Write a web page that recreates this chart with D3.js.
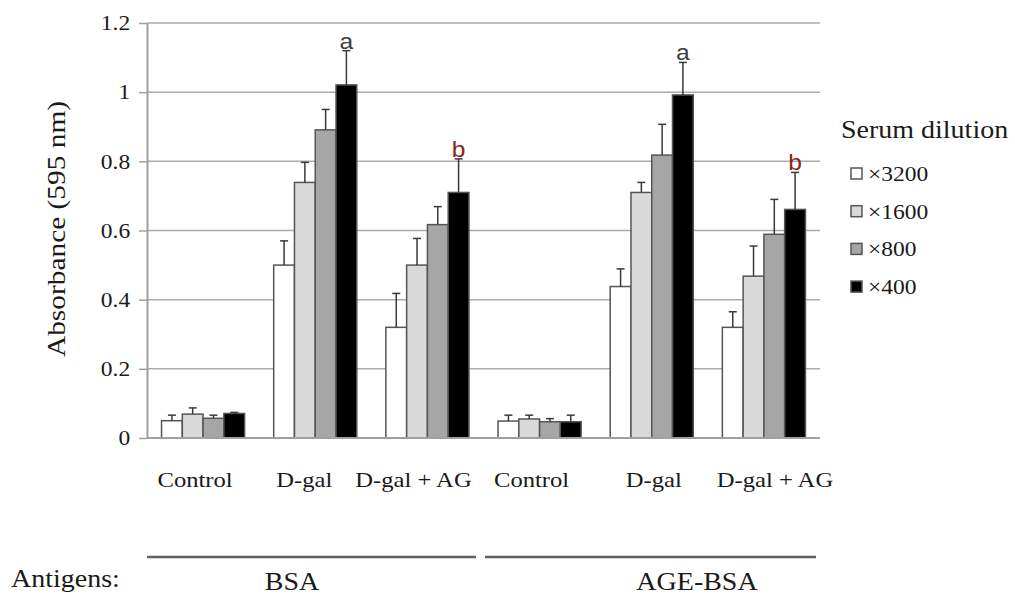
<!DOCTYPE html>
<html>
<head>
<meta charset="utf-8">
<script src="https://cdn.jsdelivr.net/npm/d3@7"></script>
<style>
  body { margin: 0; background: #fff; }
  svg { display: block; font-family: "Liberation Serif", "Times New Roman", serif; }
</style>
</head>
<body>
<div id="chart"></div>
<script>
// Data
const antigens = ["BSA", "AGE-BSA"];
const treatments = ["Control", "D-gal", "D-gal + AG"];
const dilutions = ["×3200", "×1600", "×800", "×400"];

// means per dilution, order: BSA (Control, D-gal, D-gal+AG), AGE-BSA (Control, D-gal, D-gal+AG)
const x3200 = [0.05, 0.50, 0.32, 0.049, 0.438, 0.32];
const x1600 = [0.069, 0.739, 0.50, 0.055, 0.71, 0.468];
const x800  = [0.057, 0.891, 0.617, 0.047, 0.818, 0.589];
const x400  = [0.071, 1.021, 0.71, 0.047, 0.992, 0.661];

// upper error bars
const e3200 = [0.016, 0.07, 0.098, 0.017, 0.051, 0.045];
const e1600 = [0.018, 0.058, 0.077, 0.011, 0.029, 0.087];
const e800  = [0.009, 0.059, 0.052, 0.009, 0.089, 0.101];
const e400  = [0.003, 0.099, 0.097, 0.019, 0.094, 0.107];

// significance letters over the x400 bars
const letters = ["", "a", "b", "", "a", "b"];
const yTicks = [0, 0.2, 0.4, 0.6, 0.8, 1, 1.2];

const colors = ["#ffffff", "#d9d9d9", "#a6a6a6", "#000000"];
const letterColors = {a: "#404040", b: "#8b2323"};

// layout
const width = 1015, height = 596;
const plotLeft = 147, plotRight = 820, plotTop = 23, plotBottom = 438;
const sx = 1.12; // the source text is a bit wide
const labelNudge = [-8, -11, -14, -8, 2, 11];

const svg = d3.select("#chart").append("svg")
    .attr("width", width)
    .attr("height", height)
    .attr("viewBox", [0, 0, width, height]);

function txt(g, s, x, y, size, anchor = "start") {
    return g.append("text")
        .attr("transform", `translate(${x},${y}) scale(${sx},1)`)
        .attr("text-anchor", anchor)
        .attr("font-size", size)
        .attr("fill", "#1a1a1a")
        .text(s);
}

// rows = one entry per category (antigen x treatment)
const cats = [];
antigens.forEach(a => treatments.forEach(t => cats.push(a + "|" + t)));
const series = [x3200, x1600, x800, x400];
const errs = [e3200, e1600, e800, e400];

const rows = cats.map((c, i) => ({
    key: c,
    treatment: c.split("|")[1],
    bars: dilutions.map((d, j) => ({dil: d, j: j, v: series[j][i], e: errs[j][i]}))
}));

const y = d3.scaleLinear().domain([0, 1.2]).range([plotBottom, plotTop]);
const x0 = d3.scaleBand().domain(cats).range([plotLeft, plotRight]);
const x1 = d3.scaleBand().domain(dilutions).range([0, x0.bandwidth()]).paddingOuter(0.7);

// gridlines
svg.append("g")
    .selectAll("line")
    .data(yTicks.slice(1))
    .join("line")
    .attr("x1", plotLeft).attr("x2", plotRight)
    .attr("y1", d => y(d)).attr("y2", d => y(d))
    .attr("stroke", "#ababab")
    .attr("stroke-width", 1.5);

// y axis
const yAxis = svg.append("g")
    .attr("transform", `translate(${plotLeft},0)`)
    .call(d3.axisLeft(y).tickValues(yTicks).tickSizeInner(8).tickSizeOuter(0).tickPadding(7)
        .tickFormat(d => String(+d.toFixed(1))));
yAxis.select(".domain").attr("stroke", "#a0a0a0").attr("stroke-width", 2);
yAxis.selectAll(".tick line").attr("stroke", "#a0a0a0").attr("stroke-width", 1.5);
yAxis.selectAll(".tick text")
    .attr("font-family", "\"Liberation Serif\", \"Times New Roman\", serif")
    .attr("font-size", 21)
    .attr("fill", "#1a1a1a")
    .attr("transform", `scale(${sx},1)`);

// bars
const groups = svg.append("g")
    .selectAll("g")
    .data(rows)
    .join("g")
    .attr("transform", d => `translate(${x0(d.key)},0)`);

groups.selectAll("rect")
    .data(d => d.bars)
    .join("rect")
    .attr("x", d => x1(d.dil))
    .attr("y", d => y(d.v))
    .attr("width", x1.bandwidth())
    .attr("height", d => y(0) - y(d.v))
    .attr("fill", d => colors[d.j])
    .attr("stroke", "#555")
    .attr("stroke-width", 1.5);

// error bars (upper only)
const eb = groups.selectAll("g.err")
    .data(d => d.bars)
    .join("g")
    .attr("class", "err")
    .attr("stroke", "#3a3a3a")
    .attr("stroke-width", 1.5);
eb.append("line")
    .attr("x1", d => x1(d.dil) + x1.bandwidth() / 2)
    .attr("x2", d => x1(d.dil) + x1.bandwidth() / 2)
    .attr("y1", d => y(d.v))
    .attr("y2", d => y(d.v + d.e));
eb.append("line")
    .attr("x1", d => x1(d.dil) + x1.bandwidth() / 2 - 4)
    .attr("x2", d => x1(d.dil) + x1.bandwidth() / 2 + 4)
    .attr("y1", d => y(d.v + d.e))
    .attr("y2", d => y(d.v + d.e));

// x axis baseline
svg.append("line")
    .attr("x1", plotLeft).attr("x2", plotRight)
    .attr("y1", plotBottom).attr("y2", plotBottom)
    .attr("stroke", "#a0a0a0")
    .attr("stroke-width", 2);

// letters
rows.forEach((r, i) => {
    if (!letters[i]) return;
    const b = r.bars[3];
    svg.append("text")
        .attr("transform", `translate(${x0(r.key) + x1(b.dil) + x1.bandwidth() / 2},${y(b.v + b.e) - 2}) scale(${sx},1)`)
        .attr("text-anchor", "middle")
        .attr("font-family", "\"Liberation Sans\", Arial, sans-serif")
        .attr("font-size", 22)
        .attr("fill", letterColors[letters[i]])
        .text(letters[i]);
});

// category labels
rows.forEach((r, i) => {
    txt(svg, r.treatment, x0(r.key) + x0.bandwidth() / 2 + labelNudge[i], 487, 22, "middle");
});

// y title
svg.append("text")
    .attr("transform", "translate(65,229) rotate(-90) scale(1.13,1)")
    .attr("text-anchor", "middle")
    .attr("font-size", 26)
    .attr("fill", "#1a1a1a")
    .text("Absorbance (595 nm)");

// legend
const legend = svg.append("g");
txt(legend, "Serum dilution", 841, 138, 25);
dilutions.forEach((d, i) => {
    const cy = 174 + i * 37.7;
    legend.append("rect")
        .attr("x", 851).attr("y", cy - 6)
        .attr("width", 11).attr("height", 11)
        .attr("fill", colors[i])
        .attr("stroke", "#555")
        .attr("stroke-width", 1.5);
    txt(legend, d, 868, cy + 7, 21);
});

// antigen brackets
const bracketX = [[147, 476], [485, 816]];
const antigenCenters = [292, 697];
antigens.forEach((a, i) => {
    svg.append("line")
        .attr("x1", bracketX[i][0]).attr("x2", bracketX[i][1])
        .attr("y1", 557).attr("y2", 557)
        .attr("stroke", "#606060")
        .attr("stroke-width", 2.5);
    txt(svg, a, antigenCenters[i], 590, 25, "middle");
});
txt(svg, "Antigens:", 11, 587, 25);
</script>
</body>
</html>
